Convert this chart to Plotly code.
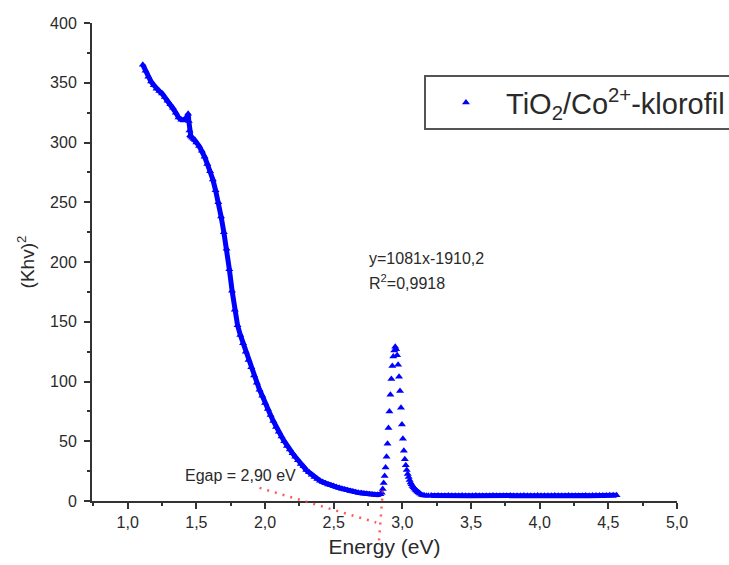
import numpy as np
import plotly.graph_objects as go

# Photon energy (eV) and (Khv)^2 for TiO2/Co2+-chlorophyll
energy = [
    1.11, 1.13, 1.15, 1.17, 1.19, 1.21, 1.23, 1.25, 1.27, 1.29, 1.31, 1.33, 1.35,
    1.37, 1.39, 1.41, 1.425, 1.435, 1.44, 1.445, 1.45, 1.455, 1.46, 1.47, 1.48,
    1.49, 1.50,
    1.52, 1.54, 1.56, 1.58, 1.60, 1.62, 1.64, 1.66, 1.68, 1.70, 1.72, 1.74, 1.76,
    1.78, 1.80, 1.82, 1.84, 1.86, 1.88, 1.90, 1.92, 1.94, 1.96, 1.98, 2.00, 2.02,
    2.04, 2.06, 2.08, 2.10, 2.12, 2.14, 2.16, 2.18, 2.20, 2.22, 2.24, 2.26, 2.28,
    2.30, 2.32, 2.34, 2.36, 2.38, 2.40, 2.42, 2.44, 2.46, 2.48, 2.50, 2.52, 2.54,
    2.56, 2.58, 2.60, 2.62, 2.64, 2.66, 2.68, 2.70, 2.72, 2.74, 2.76, 2.78, 2.80,
    2.82, 2.84,
    2.850, 2.857, 2.864, 2.871, 2.878, 2.885, 2.892, 2.899, 2.906, 2.913, 2.920,
    2.927, 2.934, 2.941, 2.948, 2.955, 2.962, 2.969, 2.976, 2.983, 2.990, 2.997,
    3.004, 3.011, 3.018, 3.025, 3.032, 3.039, 3.046, 3.053, 3.060, 3.067, 3.074,
    3.081, 3.088, 3.095, 3.102, 3.109, 3.116, 3.123, 3.130, 3.140, 3.150, 3.160,
    3.175, 3.190,
    3.21, 3.235, 3.26, 3.285, 3.31, 3.335, 3.36, 3.385, 3.41, 3.435, 3.46, 3.485,
    3.51, 3.535, 3.56, 3.585, 3.61, 3.635, 3.66, 3.685, 3.71, 3.735, 3.76, 3.785,
    3.81, 3.835, 3.86, 3.885, 3.91, 3.935, 3.96, 3.985, 4.01, 4.035, 4.06, 4.085,
    4.11, 4.135, 4.16, 4.185, 4.21, 4.235, 4.26, 4.285, 4.31, 4.335, 4.36, 4.385,
    4.41, 4.435, 4.46, 4.485, 4.51, 4.535, 4.56,
]
khv2 = [
    365, 360, 355, 351, 348, 345, 343, 341, 338, 335, 332, 329, 325,
    321, 319, 319, 320, 322, 324, 318, 310, 306, 305, 304, 303,
    302, 300,
    297, 293, 288, 282, 276, 269, 260, 250, 238, 225, 211, 194, 176,
    160, 147, 139, 132, 125, 118, 112, 105, 99, 93, 88, 82, 77,
    72, 67, 62, 58, 54, 50, 46, 43, 40, 37, 34, 31, 29,
    26, 24, 22, 20, 18.5, 17, 15.8, 14.8, 13.9, 13.1, 12.5, 11.7, 11.0,
    10.3, 9.6, 9.0, 8.4, 7.9, 7.4, 7.0, 6.6, 6.3, 6.0, 5.7, 5.5, 5.3,
    5.2, 5.6,
    7, 10, 15, 21, 28, 37, 48, 61, 75, 89, 102,
    113, 121, 126, 129, 127, 122, 114, 104, 92, 78, 64,
    52, 42, 35, 30, 26, 22.5, 20, 17.5, 15.5, 14, 12.5,
    11.5, 10.5, 9.5, 8.7, 8.0, 7.3, 6.6, 6.0, 5.3, 4.9, 4.6,
    4.4, 4.3,
    4.5, 4.4, 4.5, 4.3, 4.4, 4.5, 4.4, 4.3, 4.4, 4.5, 4.4, 4.3,
    4.4, 4.5, 4.4, 4.4, 4.3, 4.4, 4.5, 4.4, 4.3, 4.4, 4.4, 4.5,
    4.4, 4.3, 4.4, 4.5, 4.4, 4.3, 4.4, 4.5, 4.4, 4.4, 4.3, 4.4,
    4.5, 4.4, 4.3, 4.4, 4.5, 4.4, 4.4, 4.3, 4.4, 4.5, 4.4, 4.5,
    4.6, 4.5, 4.6, 4.7, 4.8, 4.8, 4.9,
]

# Sharp emission-like peak region (sparse, individually visible points)
peak_range = [2.845, 3.2]

# Tangent (linear fit) line and band-gap marker, in data units
fit_x = [1.96, 2.81]
fit_y = [11, -18]
gap_x = [2.83, 2.86]
gap_y = [-33, 12]

x_ticks = [1.0, 1.5, 2.0, 2.5, 3.0, 3.5, 4.0, 4.5, 5.0]
x_ticktext = ["1,0", "1,5", "2,0", "2,5", "3,0", "3,5", "4,0", "4,5", "5,0"]
y_ticks = [0, 50, 100, 150, 200, 250, 300, 350, 400]
y_ticktext = ["0", "50", "100", "150", "200", "250", "300", "350", "400"]
Y_RANGE = [0, 400]

FONT = "Liberation Sans, Arial, sans-serif"
AXIS = "#333333"
TEXT = "#2a2a2a"
BLUE = "#0000ff"
RED = "rgba(255,60,60,0.85)"
NAME = "TiO<sub>2</sub>/Co<sup>2+</sup>-klorofil"

e = np.array(energy)
k = np.array(khv2)
in_peak = (e > peak_range[0]) & (e < peak_range[1])
below = e <= peak_range[0]
above = e >= peak_range[1]

fig = go.Figure()

marker = dict(symbol="triangle-up", size=7, color=BLUE)
# dense parts of the spectrum: triangles merge into a continuous band
for m in (below, above):
    fig.add_trace(go.Scatter(
        x=e[m], y=k[m], mode="lines+markers", legendgroup="s", showlegend=False,
        line=dict(color=BLUE, width=5), marker=marker, name=NAME,
    ))
fig.add_trace(go.Scatter(
    x=e[in_peak], y=k[in_peak], mode="markers", legendgroup="s",
    marker=marker, name=NAME,
))

# dotted red construction lines; yref paper lets them run below the axis
def to_paper(v):
    return (v - Y_RANGE[0]) / (Y_RANGE[1] - Y_RANGE[0])

for xs, ys in ((fit_x, fit_y), (gap_x, gap_y)):
    fig.add_shape(type="line", xref="x", yref="paper",
                  x0=xs[0], x1=xs[1], y0=to_paper(ys[0]), y1=to_paper(ys[1]),
                  line=dict(color=RED, width=2.5, dash="2px,6px"), layer="above")

axis_common = dict(
    showline=True, linecolor=AXIS, linewidth=2, mirror=False,
    showgrid=False, zeroline=False,
    ticks="outside", tickcolor=AXIS, tickwidth=2,
    tickfont=dict(family=FONT, size=16, color=TEXT),
)

fig.update_xaxes(
    **axis_common,
    range=[0.74, 5.0],
    tickmode="array", tickvals=x_ticks, ticktext=x_ticktext, ticklen=6,
    minor=dict(tickmode="linear", tick0=0.25, dtick=0.5, ticklen=3,
               ticks="outside", tickcolor=AXIS, tickwidth=2),
    title=dict(text="Energy (eV)", font=dict(family=FONT, size=21, color=TEXT),
               standoff=9),
)
fig.update_yaxes(
    **axis_common,
    range=Y_RANGE,
    tickmode="array", tickvals=y_ticks, ticktext=y_ticktext, ticklen=6,
    ticklabelstandoff=4,
    minor=dict(tickmode="linear", tick0=25, dtick=50, ticklen=3,
               ticks="outside", tickcolor=AXIS, tickwidth=2),
    title=dict(text="(Khv)<sup>2</sup>", font=dict(family=FONT, size=19, color=TEXT),
               standoff=10),
)

fig.add_annotation(x=2.74, y=203, xref="x", yref="y", text="y=1081x-1910,2",
                   showarrow=False, xanchor="left", yanchor="middle",
                   font=dict(family=FONT, size=16, color=TEXT))
fig.add_annotation(x=2.74, y=183, xref="x", yref="y", text="R<sup>2</sup>=0,9918",
                   showarrow=False, xanchor="left", yanchor="middle",
                   font=dict(family=FONT, size=16, color=TEXT))
fig.add_annotation(x=2.237, y=21.5, xref="x", yref="y", text="Egap = 2,90 eV",
                   showarrow=False, xanchor="right", yanchor="middle",
                   font=dict(family=FONT, size=16, color=TEXT))

fig.update_layout(
    width=729, height=565,
    margin=dict(l=92, r=52, t=23, b=64, autoexpand=False),
    paper_bgcolor="white", plot_bgcolor="white",
    font=dict(family=FONT, color=TEXT),
    legend=dict(
        x=0.5675, y=0.891, xanchor="left", yanchor="top",
        bgcolor="white", bordercolor="#555555", borderwidth=2,
        font=dict(family=FONT, size=29, color=TEXT),
        itemwidth=70,
    ),
    showlegend=True,
)

fig.write_html("out.html")
